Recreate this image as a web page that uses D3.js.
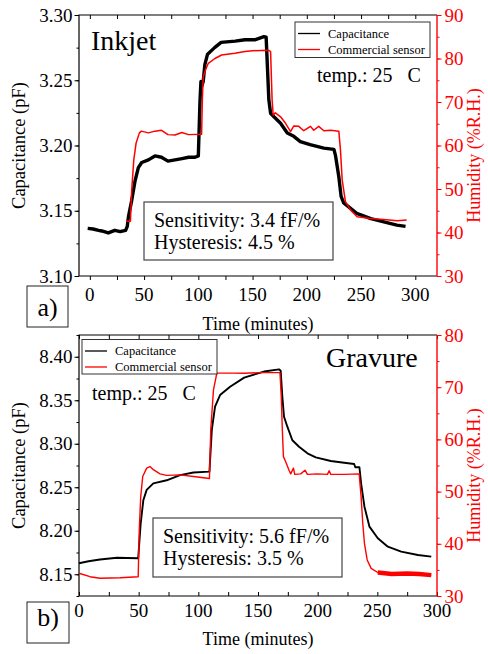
<!DOCTYPE html>
<html>
<head>
<meta charset="utf-8">
<script src="https://cdn.jsdelivr.net/npm/d3@7"></script>
<style>
body { margin: 0; background: #fff; }
</style>
</head>
<body>
<div id="chart"></div>
<script>
// values: [time (min), value]
const inkjetCapacitance = [[-2,3.1365],[3,3.136],[8,3.135],[11,3.1345],[17,3.133],[23,3.135],[28,3.134],[33,3.135],[34.5,3.138],[35.6,3.1455],[38.6,3.158],[41.7,3.173],[44.7,3.183],[47.8,3.187],[54,3.189],[60,3.192],[66,3.191],[72,3.188],[78.5,3.189],[85,3.190],[91,3.191],[97,3.191],[100,3.192],[101.5,3.2334],[102.4,3.249],[103,3.245],[104.5,3.249],[106,3.262],[108.5,3.270],[115,3.275],[121,3.279],[134,3.280],[143,3.281],[152,3.281],[160.5,3.2834],[162.5,3.283],[163.6,3.262],[165,3.235],[166.6,3.2247],[169.7,3.222],[175.8,3.217],[182,3.2096],[188,3.207],[194,3.203],[203,3.2006],[215.7,3.198],[225,3.197],[226.5,3.192],[229.5,3.176],[231.6,3.161],[234,3.156],[240,3.152],[246,3.148],[259,3.144],[271,3.1415],[283,3.139],[291,3.138]];
const inkjetHumidity = [[33.4,42.6],[37.4,42.6],[38.6,49.8],[40.5,56.7],[42.6,60.5],[45.7,62.9],[47.5,63.3],[54,62.9],[60,63.3],[66,63.5],[72,62.5],[78.5,62.4],[84.7,63.0],[91,62.5],[103,62.6],[103.7,70.5],[104.5,75.8],[106.7,77.4],[109.2,78.9],[115.3,80.0],[121.4,80.8],[133.7,81.2],[143,81.6],[150,81.8],[165,81.9],[166.6,81.6],[168,70.5],[169,67.0],[171,67.5],[175.8,66.6],[180.4,65.1],[185,63.2],[188,64.5],[192.6,64.4],[197.2,63.4],[203.4,64.4],[206.4,63.5],[211,64.4],[215.7,63.4],[221.8,63.5],[229.5,63.3],[231,59.0],[232.6,52.1],[235.6,47.1],[240.2,45.2],[246.4,43.6],[258.7,43.2],[271,43.0],[283.3,42.7],[292,42.9]];

const gravureCapacitance = [[0,8.1626],[8,8.165],[17.6,8.167],[31.7,8.169],[49.6,8.1684],[50.5,8.1856],[51.7,8.2086],[53.9,8.235],[56.7,8.247],[62.3,8.2545],[73.5,8.258],[84.7,8.264],[95.9,8.267],[109.3,8.268],[111.3,8.316],[114,8.3426],[118.2,8.356],[126.6,8.3656],[138.4,8.376],[155,8.383],[167.6,8.3855],[169,8.384],[170.4,8.354],[171.8,8.331],[174.6,8.3196],[178.8,8.304],[184.4,8.2966],[191.4,8.289],[198.4,8.2844],[211,8.2802],[222.2,8.2782],[230.6,8.2767],[231.5,8.273],[235,8.273],[236.4,8.2545],[239.2,8.2277],[243.4,8.2047],[250.4,8.1913],[258.8,8.1817],[270,8.176],[284,8.1721],[295.2,8.1702]];
const gravureHumidity = [[0,34.35],[9.2,33.7],[17.6,33.4],[34.4,33.5],[49.6,33.7],[50.5,42.6],[51.7,49.0],[53.4,52.9],[56.7,54.5],[59.5,54.8],[62.3,54.2],[67.9,53.4],[73.5,53.1],[84.7,53.2],[95.9,52.9],[109.3,52.5],[110.4,61.8],[112.7,69.5],[115.5,72.7],[129.4,72.7],[138.3,72.66],[152,72.8],[168.4,72.8],[169.5,68.2],[170.4,61.8],[171.3,56.7],[173.2,55.7],[176,54.1],[177.4,53.4],[179.7,54.5],[180.8,53.3],[185.8,53.4],[189.4,54.1],[191.4,53.3],[199.8,53.4],[208.2,53.3],[209.6,54.0],[211,53.3],[222.2,53.3],[234.8,53.4],[236.4,49.0],[237.8,43.9],[239.2,40.1],[241.5,36.9],[244.8,35.3],[250.4,34.5],[262,34.2],[275,34.3],[285,34.2],[295.2,34.0]];

const timeTicks = [0, 50, 100, 150, 200, 250, 300];
const inkjetCapTicks = [3.10, 3.15, 3.20, 3.25, 3.30];
const inkjetRhTicks = [30, 40, 50, 60, 70, 80, 90];
const gravureCapTicks = [8.15, 8.20, 8.25, 8.30, 8.35, 8.40];
const gravureRhTicks = [30, 40, 50, 60, 70, 80];
const legendLabels = ["Capacitance", "Commercial sensor"];

const FONT = "'Liberation Serif', 'Times New Roman', Times, serif";
const RED = "#ff0000";

const svg = d3.select("#chart").append("svg")
    .attr("width", 488)
    .attr("height", 654)
    .style("font-family", FONT);

// panel setups (layout only, values come from the arrays above)
const panels = [
    {
        top: 15, bottom: 276, left: 79, right: 437,
        xDomain: [-10, 320], capDomain: [3.10, 3.30], rhDomain: [30, 90],
        cap: inkjetCapacitance, rh: inkjetHumidity,
        capTicks: inkjetCapTicks, rhTicks: inkjetRhTicks, capStep: 0.025,
        capWidth: 3.4, rhWidth: 1.5,
        bottomInside: false, labelGap: 11,
        name: "Inkjet", nameX: 91, nameY: 50,
        tempX: 317, tempY: 82,
        legend: { x: 295, y: 22, w: 135, h: 35.5 },
        info: { x: 144, y: 202, w: 189, h: 58, lines: ["Sensitivity: 3.4 fF/%", "Hysteresis: 4.5 %"] },
        tag: "a)", tagBox: { x: 27, y: 286, w: 41, h: 41 }, tagY: 316,
        titleY: 330
    },
    {
        top: 335, bottom: 596, left: 79, right: 437,
        xDomain: [0, 300], capDomain: [8.125, 8.425], rhDomain: [30, 80],
        cap: gravureCapacitance, rh: gravureHumidity,
        capTicks: gravureCapTicks, rhTicks: gravureRhTicks, capStep: 0.025,
        capWidth: 1.9, rhWidth: 1.4, noisyTail: 245,
        bottomInside: true, labelGap: 7,
        name: "Gravure", nameX: 326, nameY: 367,
        tempX: 92, tempY: 400,
        legend: { x: 82, y: 339.5, w: 135, h: 34.5 },
        info: { x: 153, y: 518, w: 189, h: 59, lines: ["Sensitivity: 5.6 fF/%", "Hysteresis: 3.5 %"] },
        tag: "b)", tagBox: { x: 27, y: 602, w: 42, h: 41 }, tagY: 626,
        titleY: 645
    }
];

panels.forEach(p => drawPanel(p));

function drawPanel(p) {
    const x = d3.scaleLinear().domain(p.xDomain).range([p.left, p.right]);
    const yCap = d3.scaleLinear().domain(p.capDomain).range([p.bottom, p.top]);
    const yRh = d3.scaleLinear().domain(p.rhDomain).range([p.bottom, p.top]);

    const g = svg.append("g");

    // minor tick values
    const xMinor = d3.range(0, 301, 25).filter(v => v >= p.xDomain[0] && v <= p.xDomain[1]);
    const capMinor = d3.range(Math.round(p.capDomain[0] / p.capStep), Math.round(p.capDomain[1] / p.capStep) + 1)
        .map(i => +(i * p.capStep).toFixed(3));
    const rhMinor = d3.range(p.rhDomain[0], p.rhDomain[1] + 1, 5);

    // bottom axis: ticks every 25, labels every 50
    g.append("g").attr("transform", `translate(0,${p.bottom})`)
        .call(d3.axisBottom(x).tickValues(xMinor).tickFormat("")
            .tickSize(p.bottomInside ? -4 : 4));
    g.append("g").attr("transform", `translate(0,${p.bottom})`)
        .selectAll("text")
        .data(timeTicks).join("text")
        .attr("x", d => x(d))
        .attr("y", p.labelGap + 13.5)
        .attr("text-anchor", "middle")
        .style("font-size", "19px")
        .text(d => d);

    // top axis (inward ticks)
    g.append("g").attr("transform", `translate(0,${p.top})`)
        .call(d3.axisTop(x).tickValues(xMinor).tickFormat("").tickSize(-4));

    // left axis
    const left = g.append("g").attr("transform", `translate(${p.left},0)`);
    left.call(d3.axisLeft(yCap).tickValues(capMinor).tickFormat("").tickSize(2.5));
    left.append("g").call(d3.axisLeft(yCap).tickValues(p.capTicks)
        .tickFormat(d3.format(".2f")).tickSize(4.5).tickPadding(2));

    // right axis, red
    const right = g.append("g").attr("transform", `translate(${p.right},0)`);
    right.call(d3.axisRight(yRh).tickValues(rhMinor).tickFormat("").tickSize(2.5));
    right.append("g").call(d3.axisRight(yRh).tickValues(p.rhTicks).tickSize(4.5).tickPadding(3));
    right.selectAll(".tick line").attr("stroke", RED);
    right.selectAll(".tick text").attr("fill", RED);

    g.selectAll(".domain").remove();
    g.selectAll(".tick text").style("font-size", "19px").style("font-family", FONT);
    g.selectAll(".tick line").attr("stroke-width", 1);

    // spines
    g.append("path")
        .attr("d", `M${p.right},${p.top}H${p.left}V${p.bottom}H${p.right}`)
        .attr("fill", "none").attr("stroke", "#000").attr("stroke-width", 1.2);
    g.append("line")
        .attr("x1", p.right).attr("x2", p.right).attr("y1", p.top).attr("y2", p.bottom)
        .attr("stroke", RED).attr("stroke-width", 1.4);

    // data lines
    const capLine = d3.line().x(d => x(d[0])).y(d => yCap(d[1]));
    const rhLine = d3.line().x(d => x(d[0])).y(d => yRh(d[1]));

    g.append("path")
        .datum(p.cap)
        .attr("d", capLine)
        .attr("fill", "none")
        .attr("stroke", "#000")
        .attr("stroke-width", p.capWidth)
        .attr("stroke-linejoin", "round");

    g.append("path")
        .datum(p.rh)
        .attr("d", rhLine)
        .attr("fill", "none")
        .attr("stroke", RED)
        .attr("stroke-width", p.rhWidth)
        .attr("stroke-linejoin", "round");

    // the sensor trace is jittery at the end of the gravure run
    if (p.noisyTail) {
        g.append("path")
            .datum(p.rh.filter(d => d[0] >= p.noisyTail))
            .attr("d", rhLine)
            .attr("fill", "none")
            .attr("stroke", RED)
            .attr("stroke-width", 4.5);
    }

    // axis titles
    g.append("text")
        .attr("transform", `translate(25,${(p.top + p.bottom) / 2}) rotate(-90)`)
        .attr("text-anchor", "middle")
        .style("font-size", "18.5px")
        .text("Capacitance (pF)");

    g.append("text")
        .attr("transform", `translate(480,${(p.top + p.bottom) / 2 + 10}) rotate(-90)`)
        .attr("text-anchor", "middle")
        .attr("fill", RED)
        .style("font-size", "18px")
        .text("Humidity (%R.H.)");

    g.append("text")
        .attr("x", (p.left + p.right) / 2)
        .attr("y", p.titleY)
        .attr("text-anchor", "middle")
        .style("font-size", "18px")
        .text("Time (minutes)");

    // sensor name and temperature
    g.append("text")
        .attr("x", p.nameX).attr("y", p.nameY)
        .style("font-size", "28px")
        .text(p.name);

    g.append("text")
        .attr("x", p.tempX).attr("y", p.tempY)
        .style("font-size", "20px")
        .style("white-space", "pre")
        .text("temp.: 25   C");

    // legend
    const lg = g.append("g");
    lg.append("rect")
        .attr("x", p.legend.x).attr("y", p.legend.y)
        .attr("width", p.legend.w).attr("height", p.legend.h)
        .attr("fill", "#fff").attr("stroke", "#333").attr("stroke-width", 1);
    legendLabels.forEach((label, i) => {
        const ly = p.legend.y + 11.5 + i * 16;
        lg.append("line")
            .attr("x1", p.legend.x + 3).attr("x2", p.legend.x + 25)
            .attr("y1", ly).attr("y2", ly)
            .attr("stroke", i ? RED : "#000").attr("stroke-width", 1.3);
        lg.append("text")
            .attr("x", p.legend.x + 33).attr("y", ly + 4)
            .style("font-size", "12.5px")
            .text(label);
    });

    // sensitivity / hysteresis box
    g.append("rect")
        .attr("x", p.info.x).attr("y", p.info.y)
        .attr("width", p.info.w).attr("height", p.info.h)
        .attr("fill", "#fff").attr("stroke", "#444").attr("stroke-width", 1.2);
    p.info.lines.forEach((t, i) => {
        g.append("text")
            .attr("x", p.info.x + 10)
            .attr("y", p.info.y + 25 + i * 21.5)
            .style("font-size", "20px")
            .text(t);
    });

    // panel tag
    g.append("rect")
        .attr("x", p.tagBox.x).attr("y", p.tagBox.y)
        .attr("width", p.tagBox.w).attr("height", p.tagBox.h)
        .attr("fill", "#fff").attr("stroke", "#222").attr("stroke-width", 1);
    g.append("text")
        .attr("x", p.tagBox.x + p.tagBox.w / 2).attr("y", p.tagY)
        .attr("text-anchor", "middle")
        .style("font-size", "26px")
        .text(p.tag);
}
</script>
</body>
</html>
